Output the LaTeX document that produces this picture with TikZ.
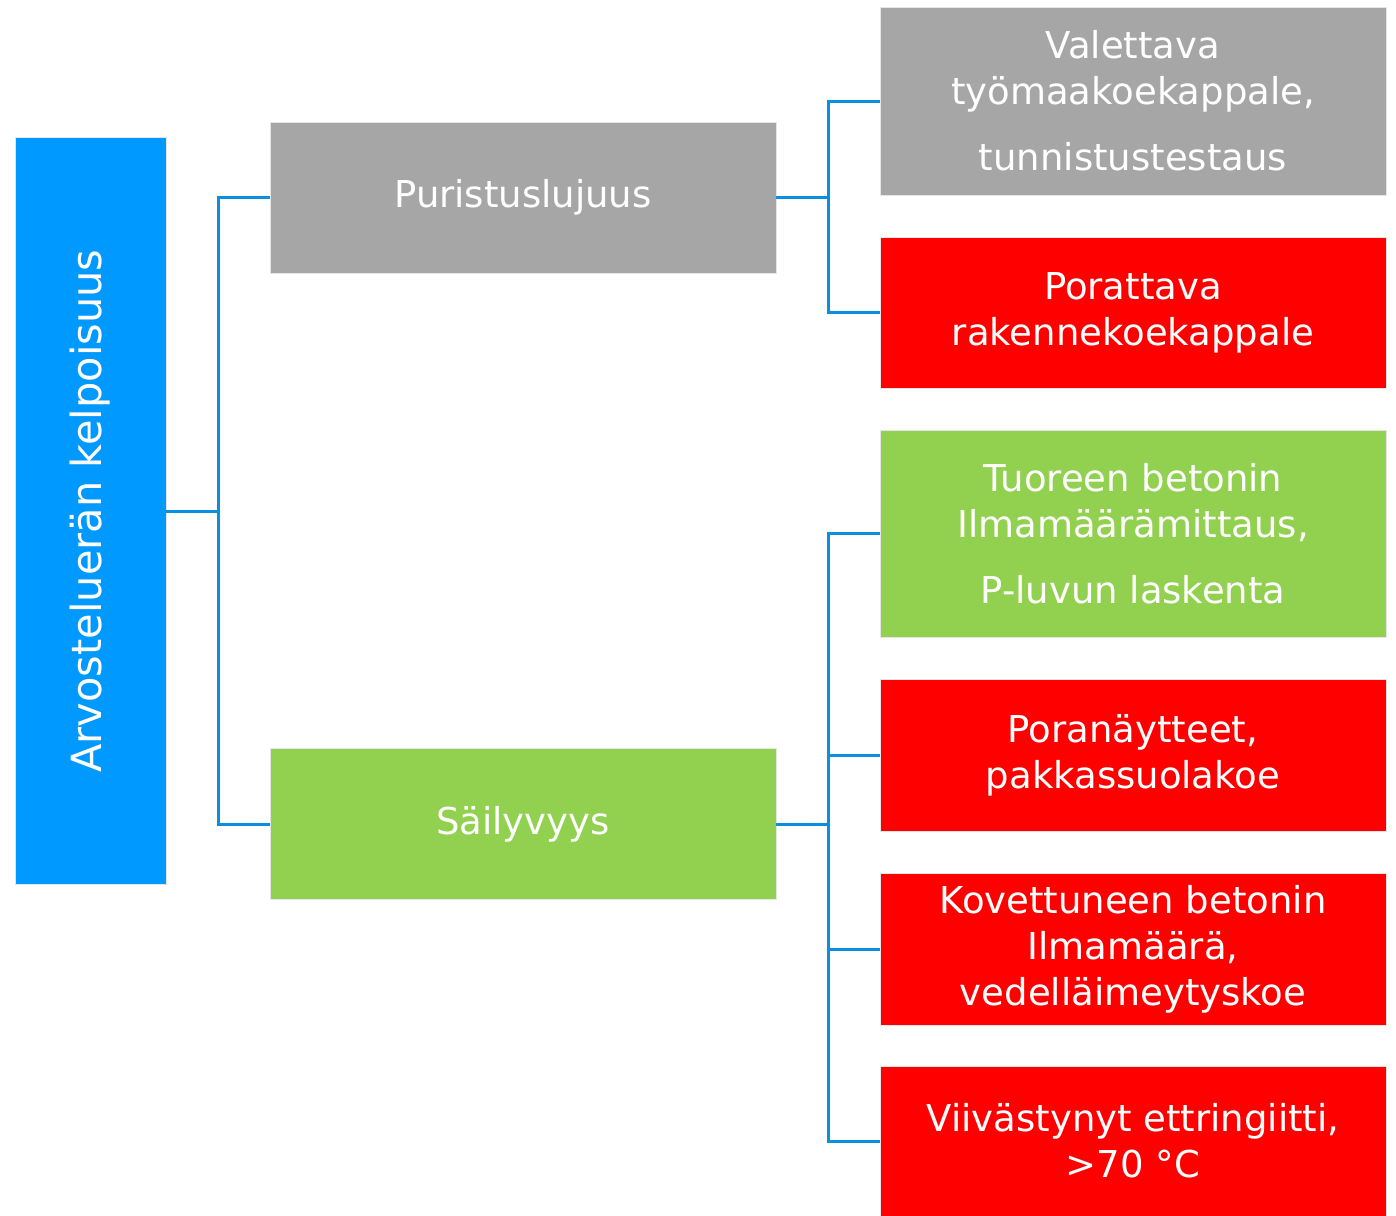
\documentclass[tikz,border=0pt]{standalone}
\usepackage{fontspec}
\setmainfont{DejaVu Sans}
\definecolor{cblue}{HTML}{0099FF}
\definecolor{cgray}{HTML}{A6A6A6}
\definecolor{cgreen}{HTML}{92D050}
\definecolor{cred}{HTML}{FF0000}
\definecolor{cline}{HTML}{0A8FE0}
\begin{document}
\begin{tikzpicture}[x=1pt,y=-1pt,
  box/.style={draw=white!90!black, line width=0.8pt, inner sep=0pt, align=center, text=white,
    font=\fontsize{37}{46}\selectfont},
  mid/.style={box, minimum width=506pt, minimum height=151pt},
  leaf/.style={box, minimum width=506pt},
  conn/.style={draw=cline, line width=3pt}]
\useasboundingbox (0,0) rectangle (1396,1215);
\fill[white] (0,0) rectangle (1396,1215);
% root
\node[box, fill=cblue, minimum width=151pt, minimum height=747pt] (root) at (90.5,511) {};
\node[text=white, font=\fontsize{41.5}{46}\selectfont, rotate=90] (roottxt) at (90,511) {Arvosteluerän kelpoisuus};
\coordinate (j1) at (218,511);
\coordinate (j2) at (828,197.5);
\coordinate (j3) at (828,824);
% middle
\node[mid, fill=cgray] (pur) at (523,197.5) {Puristuslujuus};
\node[mid, fill=cgreen] (sai) at (523,824) {Säilyvyys};
% leaves
\node[leaf, fill=cgray, minimum height=188pt] (val) at (1133,101) {Valettava\\työmaakoekappale,\\[20pt]tunnistustestaus};
\node[leaf, fill=cred, minimum height=151pt] (por) at (1133,312.5) {Porattava\\rakennekoekappale};
\node[leaf, fill=cgreen, minimum height=207pt] (tuo) at (1133,533.5) {Tuoreen betonin\\Ilmamäärämittaus,\\[20pt]P-luvun laskenta};
\node[leaf, fill=cred, minimum height=152pt] (pna) at (1133,755) {Poranäytteet,\\pakkassuolakoe};
\node[leaf, fill=cred, minimum height=152pt] (kov) at (1133,949) {Kovettuneen betonin\\Ilmamäärä,\\vedelläimeytyskoe};
\node[leaf, fill=cred, minimum height=150pt] (vii) at (1133,1141) {Viivästynyt ettringiitti,\\>70 °C};
% connectors
\draw[conn] (root.east) -- (j1) |- (pur.west);
\draw[conn] (j1) |- (sai.west);
\draw[conn] (pur.east) -- (j2) |- (val.west);
\draw[conn] (j2) |- (por.west);
\draw[conn] (sai.east) -- (j3) |- (tuo.west);
\draw[conn] (j3) |- (pna.west);
\draw[conn] (j3) |- (kov.west);
\draw[conn] (j3) |- (vii.west);
\end{tikzpicture}
\end{document}
